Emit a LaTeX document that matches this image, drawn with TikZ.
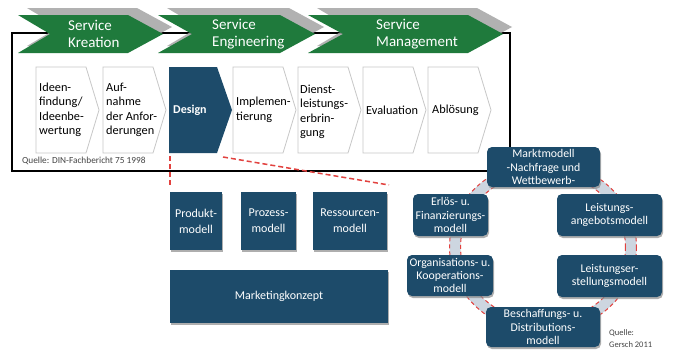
\documentclass[tikz,border=0pt]{standalone}
\usepackage{fontspec}
\setmainfont{Carlito}
\definecolor{sgreen}{HTML}{1F7A3C}
\definecolor{sblue}{HTML}{1D4B6A}
\definecolor{ringc}{HTML}{CDD6E0}
\definecolor{rdash}{HTML}{E2423F}
\definecolor{shgray}{HTML}{A4A4A4}
\definecolor{qgray}{HTML}{444444}
\tikzset{
  chev/.style={fill=sgreen},
  chevshadow/.style={fill=shgray,opacity=0.85},
  chevtext/.style={text=white,font=\fontsize{15}{17}\selectfont,align=left,anchor=west,inner sep=0pt},
  stepbox/.style={draw=black!22,fill=white,line width=0.8pt},
  steptext/.style={font=\fontsize{12.3}{14.5}\selectfont,align=left,anchor=west,inner sep=0pt},
  bluebox/.style={fill=sblue,text=white,font=\fontsize{12}{16}\selectfont,align=center,inner sep=0pt,
     drop shadow={shadow xshift=1pt,shadow yshift=-2pt,fill=black!45,opacity=0.7}},
  circbox/.style={bluebox,rounded corners=5pt,font=\fontsize{11.8}{13.2}\selectfont},
  reddash/.style={draw=rdash,line width=1.5pt,dash pattern=on 5pt off 3pt},
  ringdash/.style={draw=rdash,line width=1pt,dash pattern=on 4pt off 3pt},
  srctext/.style={text=qgray,inner sep=0pt,align=left}
}
\usetikzlibrary{shadows}
\begin{document}
\begin{tikzpicture}[x=1pt,y=-1pt]
\useasboundingbox[fill=white] (0,0) rectangle (678,351);

% frame
\draw[line width=1.6pt] (12,33) rectangle (510,171);

% chevron shadows
\foreach \a/\b/\c in {18/128/163,158/280/315,308/468/503}{
  \path[chevshadow] (\a+9,8) -- (\b+9,8) -- (\c+9,27) -- (\b+9,46) -- (\a+9,46) -- (\a+41,27) -- cycle;
}
% chevrons
\path[chev] (18,15) -- (128,15) -- (163,34) -- (128,53) -- (18,53) -- (50,34) -- cycle;
\path[chev] (158,15) -- (280,15) -- (315,34) -- (280,53) -- (158,53) -- (192,34) -- cycle;
\path[chev] (308,15) -- (468,15) -- (503,34) -- (468,53) -- (308,53) -- (343,34) -- cycle;
\node[chevtext] (kreation) at (68,34) {Service\\Kreation};
\node[chevtext] (engineering) at (212,34) {Service\\Engineering};
\node[chevtext] (management) at (376,34) {Service\\Management};

% process steps
\foreach \x in {36,103,233,298,363,428}{
  \draw[stepbox] (\x,67) -- (\x+50,67) -- (\x+63,110) -- (\x+50,153) -- (\x,153) -- cycle;
}
\fill[sblue] (169,67) -- (217,67) -- (232,110) -- (217,153) -- (169,153) -- cycle;
\node[steptext] (s1) at (39,110) {Ideen-\\findung/\\Ideenbe-\\wertung};
\node[steptext] (s2) at (106,110) {Auf-\\nahme\\der Anfor-\\derungen};
\node[steptext,text=white,font=\bfseries\fontsize{12}{14}\selectfont] (s3) at (173,110) {Design};
\node[steptext] (s4) at (236,110) {Implemen-\\tierung};
\node[steptext] (s5) at (300,112) {Dienst-\\leistungs-\\erbrin-\\gung};
\node[steptext] (s6) at (366,110) {Evaluation};
\node[steptext] (s7) at (432,110) {Ablösung};
\node[srctext,anchor=west,font=\fontsize{9.3}{10}\selectfont] (src1) at (22,161) {Quelle: DIN-Fachbericht 75 1998};

% red dashed zoom lines
\coordinate (dbl) at (170,156);
\coordinate (dbr) at (223,157);
\coordinate (pl) at (170,187);
\coordinate (pr) at (389,185);
\draw[reddash] (dbl) -- (pl);
\draw[reddash] (dbr) -- (pr);

% left blue boxes
\node[bluebox,minimum width=52pt,minimum height=58pt] (produkt) at (196,221) {Produkt-\\modell};
\node[bluebox,minimum width=55pt,minimum height=58pt] (prozess) at (268.5,221) {Prozess-\\modell};
\node[bluebox,minimum width=74pt,minimum height=58pt] (ressourcen) at (350,221) {Ressourcen-\\modell};
\node[bluebox,minimum width=218pt,minimum height=53pt] (marketing) at (279,296.5) {Marketingkonzept};

% ring
\fill[ringc,even odd rule] (543,247) ellipse [x radius=93.5, y radius=85.5] (543,247) ellipse [x radius=82.5, y radius=74.5];
\draw[ringdash] (543,247) ellipse [x radius=93.5, y radius=85.5];
\draw[ringdash] (543,247) ellipse [x radius=82.5, y radius=74.5];

% circle boxes
\node[circbox,minimum width=113pt,minimum height=40pt] (markt) at (543.5,167) {Marktmodell\\-Nachfrage und\\Wettbewerb-};
\node[circbox,minimum width=75pt,minimum height=42pt] (erloes) at (450.5,215) {Erlös- u.\\Finanzierungs-\\modell};
\node[circbox,minimum width=105pt,minimum height=42pt] (angebot) at (609.5,215) {Leistungs-\\angebotsmodell};
\node[circbox,minimum width=86pt,minimum height=41pt] (orga) at (450,275.5) {Organisations- u.\\Kooperations-\\modell};
\node[circbox,minimum width=105pt,minimum height=42pt] (erstellung) at (609.5,276) {Leistungser-\\stellungsmodell};
\node[circbox,minimum width=114pt,minimum height=40pt] (beschaffung) at (543,327) {Beschaffungs- u.\\Distributions-\\modell};

\node[srctext,anchor=north west,font=\fontsize{8.5}{12}\selectfont] (src2) at (609,329) {Quelle:\\Gersch 2011};
\end{tikzpicture}
\end{document}
